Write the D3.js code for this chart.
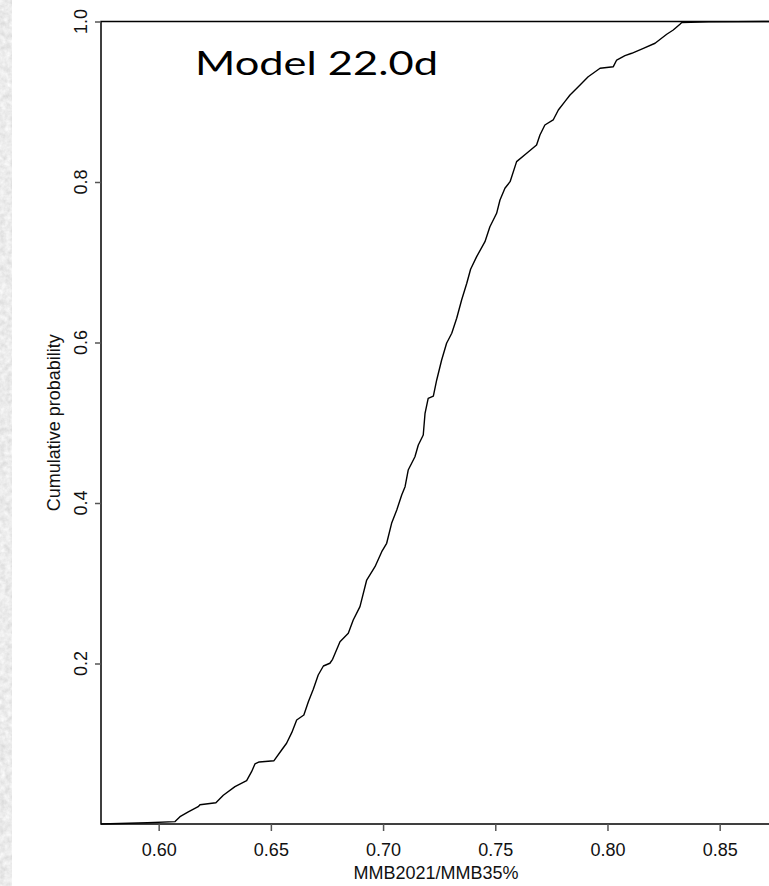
<!DOCTYPE html>
<html>
<head>
<meta charset="utf-8">
<script src="https://cdn.jsdelivr.net/npm/d3@7"></script>
<style>
  html, body { margin: 0; padding: 0; background: #ffffff; }
  svg { display: block; }
</style>
</head>
<body>
<svg id="chart" width="769" height="886"></svg>
<script>
// Empirical CDF of MMB2021/MMB35% (Model 22.0d posterior draws)
const ratio = [
  0.5743, 0.5950, 0.6073, 0.6095, 0.6132, 0.6176, 0.6184, 0.6255, 0.6288, 0.6340,
  0.6392, 0.6414, 0.6429, 0.6448, 0.6514, 0.6548, 0.6570, 0.6593, 0.6615, 0.6647,
  0.6667, 0.6689, 0.6711, 0.6734, 0.6763, 0.6775, 0.6808, 0.6845, 0.6867, 0.6897,
  0.6927, 0.6964, 0.6994, 0.7016, 0.7038, 0.7061, 0.7083, 0.7098, 0.7112, 0.7142,
  0.7157, 0.7179, 0.7187, 0.7201, 0.7224, 0.7239, 0.7261, 0.7283, 0.7306, 0.7328,
  0.7350, 0.7373, 0.7390, 0.7417, 0.7454, 0.7476, 0.7506, 0.7521, 0.7543, 0.7566,
  0.7595, 0.7640, 0.7684, 0.7699, 0.7721, 0.7758, 0.7781, 0.7810, 0.7833, 0.7870,
  0.7914, 0.7967, 0.8026, 0.8041, 0.8078, 0.8108, 0.8160, 0.8212, 0.8264, 0.8293,
  0.8323, 0.8331, 0.8450, 0.8720
];
const cumProb = [
  0.0000, 0.0015, 0.0030, 0.0091, 0.0150, 0.0216, 0.0240, 0.0265, 0.0358, 0.0465,
  0.0540, 0.0652, 0.0748, 0.0773, 0.0789, 0.0922, 0.1006, 0.1138, 0.1296, 0.1358,
  0.1524, 0.1679, 0.1857, 0.1969, 0.2003, 0.2052, 0.2272, 0.2376, 0.2542, 0.2708,
  0.3040, 0.3206, 0.3393, 0.3498, 0.3747, 0.3913, 0.4100, 0.4203, 0.4411, 0.4577,
  0.4723, 0.4847, 0.5118, 0.5305, 0.5333, 0.5533, 0.5782, 0.5990, 0.6115, 0.6302,
  0.6530, 0.6738, 0.6913, 0.7070, 0.7256, 0.7443, 0.7610, 0.7776, 0.7922, 0.8004,
  0.8254, 0.8358, 0.8461, 0.8586, 0.8710, 0.8773, 0.8897, 0.9001, 0.9084, 0.9188,
  0.9312, 0.9417, 0.9437, 0.9520, 0.9574, 0.9604, 0.9666, 0.9729, 0.9841, 0.9894,
  0.9966, 0.9988, 0.9995, 1.0000
];
const xTicks = [0.60, 0.65, 0.70, 0.75, 0.80, 0.85];
const yTicks = [0.2, 0.4, 0.6, 0.8, 1.0];
const xTitle = "MMB2021/MMB35%";
const yTitle = "Cumulative probability";
const modelLabel = "Model 22.0d";

const svg = d3.select("#chart");
const pageH = 886;

// plot frame (right side runs past the page edge)
const plotLeft = 101, plotTop = 21.5, plotBottom = 824, plotRight = 798;

const x = d3.scaleLinear().domain([0.5743, 0.8849]).range([plotLeft, plotRight]);
const y = d3.scaleLinear().domain([0, 1]).range([plotBottom, plotTop]);

// textured strip along the left page edge
const defs = svg.append("defs");
const f = defs.append("filter").attr("id", "grain")
  .attr("x", 0).attr("y", 0).attr("width", 1).attr("height", 1);
f.append("feTurbulence").attr("type", "fractalNoise")
  .attr("baseFrequency", "0.18").attr("numOctaves", 3).attr("seed", 4);
f.append("feColorMatrix").attr("type", "matrix")
  .attr("values", "0.35 0 0 0 0.66  0.35 0 0 0 0.66  0.35 0 0 0 0.66  0 0 0 0 1");
svg.append("rect").attr("x", 0).attr("y", 0).attr("width", 12).attr("height", pageH)
  .attr("filter", "url(#grain)");

// frame
svg.append("rect")
  .attr("x", plotLeft).attr("y", plotTop)
  .attr("width", plotRight - plotLeft).attr("height", plotBottom - plotTop)
  .attr("fill", "none").attr("stroke", "#000").attr("stroke-width", 1.5);

// x axis ticks and labels
const xAxis = d3.axisBottom(x).tickValues(xTicks)
  .tickFormat(d3.format(".2f")).tickSize(7).tickPadding(12).tickSizeOuter(0);
const gx = svg.append("g").attr("transform", `translate(0,${plotBottom})`).call(xAxis);
gx.select(".domain").remove();
gx.selectAll(".tick line").attr("stroke", "#555").attr("stroke-width", 1.5);
gx.selectAll(".tick text")
  .attr("font-family", "'Liberation Sans', Arial, sans-serif")
  .attr("font-size", 18).attr("fill", "#111");

// y axis ticks
const yAxis = d3.axisLeft(y).tickValues(yTicks).tickSize(6).tickFormat("").tickSizeOuter(0);
const gy = svg.append("g").attr("transform", `translate(${plotLeft},0)`).call(yAxis);
gy.select(".domain").remove();
gy.selectAll(".tick line").attr("stroke", "#555").attr("stroke-width", 1.5);

// y tick labels, rotated
svg.append("g").selectAll("text").data(yTicks).join("text")
  .attr("transform", d => `translate(87.3,${y(d)}) rotate(-90)`)
  .attr("text-anchor", "middle")
  .attr("font-family", "'Liberation Sans', Arial, sans-serif")
  .attr("font-size", 18).attr("fill", "#111")
  .text(d => d3.format(".1f")(d));

// axis titles
svg.append("text")
  .attr("x", 436).attr("y", 879)
  .attr("text-anchor", "middle")
  .attr("font-family", "'Liberation Sans', Arial, sans-serif")
  .attr("font-size", 18).attr("fill", "#111")
  .text(xTitle);

svg.append("text")
  .attr("transform", `translate(60,${(plotTop + plotBottom) / 2}) rotate(-90)`)
  .attr("text-anchor", "middle")
  .attr("font-family", "'Liberation Sans', Arial, sans-serif")
  .attr("font-size", 18).attr("fill", "#111")
  .text(yTitle);

// ECDF curve
const pts = ratio.map((r, i) => [r, cumProb[i]]);
const line = d3.line().x(d => x(d[0])).y(d => y(d[1]));
svg.append("path")
  .attr("d", line(pts))
  .attr("fill", "none")
  .attr("stroke", "#000")
  .attr("stroke-width", 1.4)
  .attr("stroke-linejoin", "round");

// model label
svg.append("text")
  .attr("x", 195).attr("y", 75)
  .attr("font-family", "Lato, 'Open Sans', sans-serif")
  .attr("font-size", 32)
  .attr("textLength", 243)
  .attr("lengthAdjust", "spacingAndGlyphs")
  .attr("fill", "#000")
  .text(modelLabel);
</script>
</body>
</html>
